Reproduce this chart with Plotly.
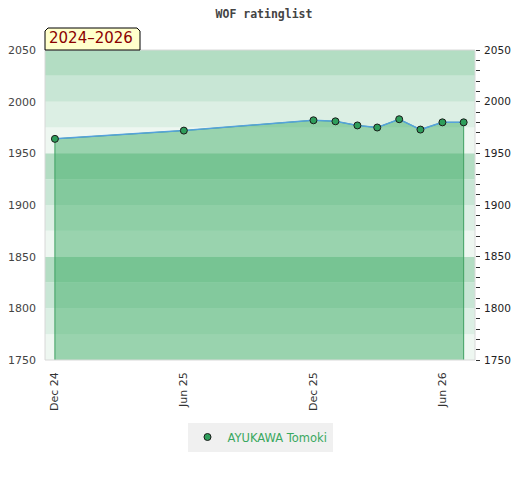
import plotly.graph_objects as go

# rating list data (one point per list)
dates = ["2024-12-01", "2025-06-01", "2025-12-01", "2026-01-01", "2026-02-01",
         "2026-03-01", "2026-04-01", "2026-05-01", "2026-06-01", "2026-07-01"]
ratings = [1964, 1972, 1982, 1981, 1977, 1975, 1983, 1973, 1980, 1980]
player = "AYUKAWA Tomoki"
period = "2024\u20132026"

y_min, y_max = 1750, 2050
band_colors = ["#eef7f1", "#dcefe4", "#c8e6d5", "#b3ddc3"]

fig = go.Figure()

# shaded area under the curve, closed down to the axis bottom
fig.add_trace(go.Scatter(
    x=[dates[0]] + dates + [dates[-1]],
    y=[y_min] + ratings + [y_min],
    fill="toself", fillcolor="rgba(36,161,81,0.42)",
    line=dict(color="#3fa062", width=1),
    mode="lines", hoverinfo="skip", showlegend=False,
))

fig.add_trace(go.Scatter(
    x=dates, y=ratings, mode="lines", showlegend=False,
    line=dict(color="#55a2dc", width=1.5),
))
fig.add_trace(go.Scatter(
    x=dates, y=ratings, name=player, mode="markers",
    marker=dict(size=7, color="#2e9e5b", line=dict(color="#1a1a1a", width=1)),
))

# invisible trace so the right axis is drawn
fig.add_trace(go.Scatter(x=dates[:1], y=ratings[:1], yaxis="y2", mode="markers",
                         marker=dict(opacity=0), showlegend=False, hoverinfo="skip"))

# horizontal colour bands every 25 points
shapes = []
for i, lo in enumerate(range(y_min, y_max, 25)):
    shapes.append(dict(type="rect", xref="paper", yref="y", x0=0, x1=1, y0=lo, y1=lo + 25,
                       fillcolor=band_colors[i % 4], line=dict(width=0), layer="below"))
shapes.append(dict(type="rect", xref="paper", yref="paper", x0=0, x1=1, y0=0, y1=1,
                   line=dict(color="#d8d8d8", width=1)))
# period badge with cut corners
shapes.append(dict(type="path", xref="paper", yref="paper", xsizemode="pixel", ysizemode="pixel",
                   xanchor=0, yanchor=1,
                   path="M0,0 L0,19 L3,22 L92,22 L95,19 L95,0 Z",
                   fillcolor="#ffffcc", line=dict(color="#000000", width=1)))

# page body has an 8px margin, so the figure is sized/offset to land where the original sits
fig.update_layout(
    width=512, height=472,
    margin=dict(l=37, r=45, t=42, b=120, autoexpand=False),
    paper_bgcolor="white", plot_bgcolor="white",
    font=dict(family="DejaVu Sans", size=11, color="#444"),
    title=dict(text="<b>WOF ratinglist</b>", x=0.5, xanchor="center", y=1 - 6 / 472, yanchor="middle",
               font=dict(family="DejaVu Sans Mono", size=11.5, color="#444")),
    shapes=shapes,
    annotations=[dict(text=period, xref="paper", yref="paper", x=0.005, y=1.0, xanchor="left",
                      yanchor="bottom", yshift=1, showarrow=False,
                      font=dict(family="DejaVu Sans", size=15, color="#8b0000"))],
    xaxis=dict(type="date", range=["2024-11-17", "2026-07-17"], showgrid=False, zeroline=False,
               automargin=False,
               tickvals=["2024-12-01", "2025-06-01", "2025-12-01", "2026-06-01"],
               ticktext=["Dec 24", "Jun 25", "Dec 25", "Jun 26"],
               tickangle=-90, ticklabelstandoff=9, tickfont=dict(color="#333")),
    yaxis=dict(range=[y_min, y_max], dtick=50, showgrid=False, zeroline=False, automargin=False,
               ticklabelstandoff=8, tickfont=dict(color="#444")),
    yaxis2=dict(range=[y_min, y_max], dtick=50, overlaying="y", side="right", showgrid=False,
                zeroline=False, automargin=False, ticks="outside", ticklen=4, tickcolor="#333",
                minor=dict(ticks="outside", ticklen=4, dtick=10, tickcolor="#333"),
                ticklabelstandoff=2, tickfont=dict(color="#222", size=10.5)),
    legend=dict(orientation="h", x=0.5, xanchor="center", y=-77 / 310, yanchor="middle",
                bgcolor="#f0f0f0", font=dict(color="#3aa860", size=11.5)),
)

fig.write_html("out.html")
